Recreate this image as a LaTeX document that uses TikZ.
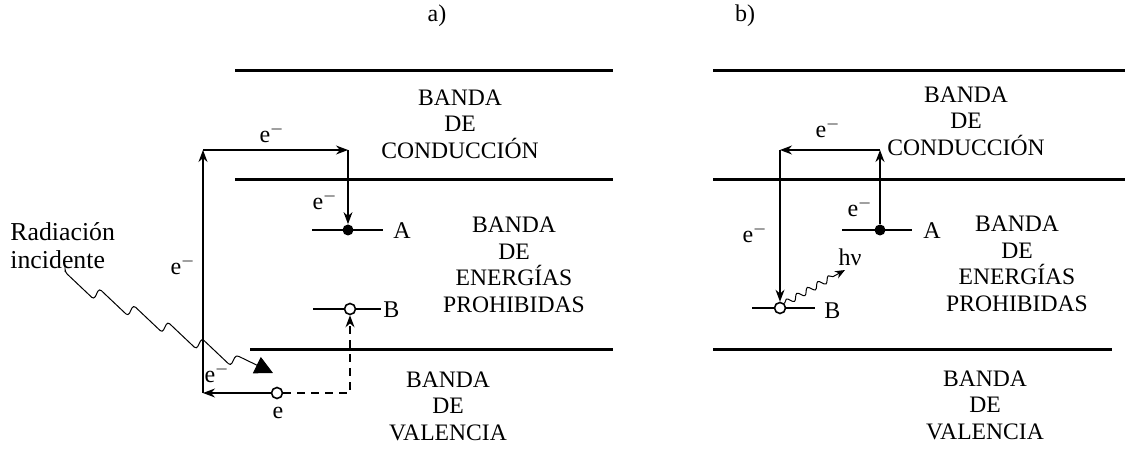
\documentclass[tikz,border=0pt]{standalone}
\usepackage{fontspec}
\setmainfont{Liberation Serif}
\usetikzlibrary{arrows.meta,decorations.pathmorphing}
\tikzset{
  band/.style={line width=1.5pt},
  level/.style={line width=0.9pt},
  trans/.style={line width=0.6pt,-{Stealth[length=6pt,width=4.5pt]}},
  dot/.style={circle,fill,inner sep=0pt,minimum size=5.5pt},
  hole/.style={circle,draw,fill=white,line width=0.8pt,inner sep=0pt,minimum size=5.5pt},
  txt/.style={font=\fontsize{11.8}{13.3}\selectfont,align=center},
  lbl/.style={font=\fontsize{12}{14}\selectfont,inner sep=1pt},
}
\newcommand{\elec}{e$^{-}$}
\begin{document}
\begin{tikzpicture}[x=0.5pt,y=-0.5pt]
	\useasboundingbox (0,0) rectangle (1125,454);
	% a)
	\node[lbl] (tita) at (437,16) {a)};
	\draw[band] (235,71) -- (613,71);
	\draw[band] (235,180) -- (613,180);
	\draw[band] (250,350) -- (613,350);
	\node[txt] (conda) at (460,124) {BANDA\\DE\\CONDUCCIÓN};
	\node[txt] (proha) at (514,265) {BANDA\\DE\\ENERGÍAS\\PROHIBIDAS};
	\node[txt] (vala) at (448,406) {BANDA\\DE\\VALENCIA};
	\draw[level] (312,230) -- (383,230);
	\node[dot] (Aa) at (348,230) {};
	\node[lbl,anchor=west] (labAa) at (391,231) {A};
	\draw[level] (313,309) -- (381,309);
	\node[hole] (Ba) at (350,309) {};
	\node[lbl,anchor=west] (labBa) at (381,310) {B};
	\node[hole] (ea) at (277,393) {};
	\coordinate (c1) at (203,393);
	\coordinate (c2) at (203,150);
	\coordinate (c3) at (348,150);
	\coordinate (c4) at (350,393);
	\draw[trans] (ea) -- (c1);
	\draw[trans] (c1) -- (c2);
	\draw[trans] (c2) -- (c3);
	\draw[trans] (c3) -- (Aa);
	\draw[trans,dash pattern=on 4pt off 3pt] (ea) -- (c4) -- (Ba);
	\node[lbl] (e1) at (272,133) {\elec};
	\node[lbl] (e2) at (325,200) {\elec};
	\node[lbl] (e3) at (183,265) {\elec};
	\node[lbl] (e4) at (217,373) {\elec};
	\node[lbl] (e5) at (278,413) {e};
	% radiacion
	\node[lbl,anchor=west,align=left,font=\fontsize{12.9}{14}\selectfont] (rad) at (8,246) {Radiación\\incidente};
	\coordinate (r0) at (65,272);
	\coordinate (r1) at (273,373);
	\draw[line width=0.5pt,rounded corners=1.5pt,decorate,decoration={saw,segment length=19pt,amplitude=-6pt,post length=8pt},-{Triangle[length=9pt,width=9pt]}] (r0) -- (r1);
	% b)
	\node[lbl] (titb) at (745,16) {b)};
	\draw[band] (713,71) -- (1125,71);
	\draw[band] (713,180) -- (1125,180);
	\draw[band] (713,350) -- (1112,350);
	\node[txt] (condb) at (966,121) {BANDA\\DE\\CONDUCCIÓN};
	\node[txt] (prohb) at (1017,264) {BANDA\\DE\\ENERGÍAS\\PROHIBIDAS};
	\node[txt] (valb) at (985,405) {BANDA\\DE\\VALENCIA};
	\draw[level] (842,230) -- (912,230);
	\node[dot] (Ab) at (880,230) {};
	\node[lbl,anchor=west] (labAb) at (921,231) {A};
	\draw[level] (752,308) -- (815,308);
	\node[hole] (Bb) at (780,308) {};
	\node[lbl,anchor=west] (labBb) at (822,311) {B};
	\coordinate (d1) at (880,150);
	\coordinate (d2) at (780,150);
	\draw[trans] (Ab) -- (d1);
	\draw[trans] (d1) -- (d2);
	\draw[trans] (d2) -- (Bb);
	\node[lbl] (e6) at (828,128) {\elec};
	\node[lbl] (e7) at (860,207) {\elec};
	\node[lbl] (e8) at (755,233) {\elec};
	\coordinate (h1) at (845,270);
	\draw[line width=0.5pt,decorate,decoration={snake,segment length=6pt,amplitude=1.5pt,post length=4pt},-{Stealth[length=5pt,width=4pt]}] (Bb.north east) -- (h1);
	\node[lbl] (hnu) at (850,257) {hν};
\end{tikzpicture}
\end{document}
